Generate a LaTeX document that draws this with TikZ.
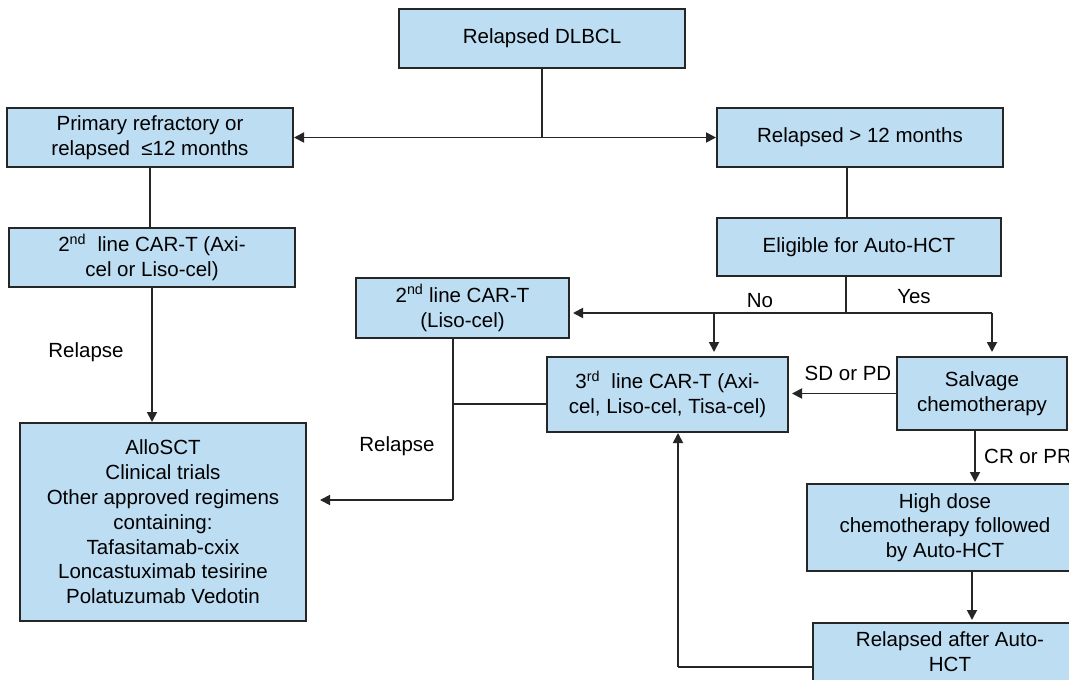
\documentclass[tikz,border=0pt]{standalone}
\usepackage{fontspec}
\setmainfont{Liberation Sans}
\usetikzlibrary{arrows.meta}
\definecolor{boxfill}{RGB}{189,221,243}
\definecolor{ink}{RGB}{38,38,38}
\begin{document}
\begin{tikzpicture}[x=1pt,y=-1pt,
  box/.style={draw=ink, line width=2pt, fill=boxfill, align=center, inner sep=2pt, text=black},
  conn/.style={draw=ink, line width=1.8pt},
  arr/.style={conn, -{Triangle[length=10pt,width=10pt]}},
  lbl/.style={text=black, inner sep=0pt},
  font=\fontsize{20.5}{24.8}\selectfont]
\clip (0,0) rectangle (1069,680);
\fill[white] (0,0) rectangle (1069,680);

% boxes
\node[box, minimum width=286pt, minimum height=59pt] (dlbcl) at (542,38.5) {Relapsed DLBCL};
\node[box, minimum width=286pt, minimum height=59pt] (prim) at (150,137.5) {Primary refractory or\\relapsed\ \ ≤12 months};
\node[box, minimum width=286pt, minimum height=59pt] (rel12) at (860,137.5) {Relapsed > 12 months};
\node[box, minimum width=286pt, minimum height=59pt] (axi) at (152,257.5) {2\textsuperscript{nd}\ \ line CAR-T (Axi-\\cel or Liso-cel)};
\node[box, minimum width=284pt, minimum height=58pt] (elig) at (859,247) {Eligible for Auto-HCT};
\node[box, minimum width=213pt, minimum height=60pt] (liso) at (462.5,308) {2\textsuperscript{nd} line CAR-T\\(Liso-cel)};
\node[box, minimum width=241pt, minimum height=75pt] (third) at (667.5,394.5) {3\textsuperscript{rd}\ \ line CAR-T (Axi-\\cel, Liso-cel, Tisa-cel)};
\node[box, minimum width=170pt, minimum height=73pt] (salv) at (982,393.5) {Salvage\\chemotherapy};
\node[box, minimum width=286pt, minimum height=198pt] (allo) at (163,522) {AlloSCT\\Clinical trials\\Other approved regimens\\containing:\\Tafasitamab-cxix\\Loncastuximab tesirine\\Polatuzumab Vedotin};
\node[box, minimum width=276pt, minimum height=87pt] (high) at (945,527.5) {High dose\\chemotherapy followed\\by Auto-HCT};
\node[box, minimum width=274pt, minimum height=58pt] (relauto) at (950,652) {Relapsed after Auto-\\HCT};

% helper coordinates
\coordinate (split1) at (542,137.5);
\coordinate (stemR) at (847,0);
\coordinate (split2) at (846,313);
\coordinate (yesCorner) at (992,313);
\coordinate (noDown) at (714,313);
\coordinate (lisoStem) at (453,0);
\coordinate (lisoJoin) at (453,404);
\coordinate (lisoCorner) at (453,500);
\coordinate (relTip) at (320,500);
\coordinate (backCorner) at (678,667);

% connectors
\draw[conn] (dlbcl.south) -- (split1);
\draw[arr] (split1) -- (prim.east);
\draw[arr] (split1) -- (rel12.west);
\draw[conn] (prim.south) -- (prim.south |- axi.north);
\draw[arr] (axi.south) -- (axi.south |- allo.north);
\draw[conn] (rel12.south -| stemR) -- (elig.north -| stemR);
\draw[conn] (elig.south -| split2) -- (split2);
\draw[arr, shorten >=3pt] (split2) -- (liso.east |- split2);
\draw[arr, shorten >=4pt] (noDown) -- (noDown |- third.north);
\draw[conn] (split2) -- (yesCorner);
\draw[arr, shorten >=4pt] (yesCorner) -- (yesCorner |- salv.north);
\draw[conn] (liso.south -| lisoStem) -- (lisoCorner);
\draw[arr] (lisoCorner) -- (relTip);
\draw[conn] (third.west |- lisoJoin) -- (lisoJoin);
\draw[arr, shorten >=3pt] (salv.west) -- (third.east |- salv.west);
\draw[arr, shorten >=1pt] (salv.south -| 975,0) -- (high.north -| 975,0);
\draw[arr, shorten >=2pt] (high.south -| 972,0) -- (relauto.north -| 972,0);
\draw[conn] (relauto.west |- backCorner) -- (backCorner);
\draw[arr] (backCorner) -- (backCorner |- third.south);

% labels
\node[lbl] (l1) at (86,352) {Relapse};
\node[lbl] (l2) at (397,446) {Relapse};
\node[lbl] (lno) at (760,301) {No};
\node[lbl] (lyes) at (914,297) {Yes};
\node[lbl] (lsd) at (848,373) {SD or PD};
\node[lbl, anchor=west] (lcr) at (984,456) {CR or PR};
\end{tikzpicture}
\end{document}
